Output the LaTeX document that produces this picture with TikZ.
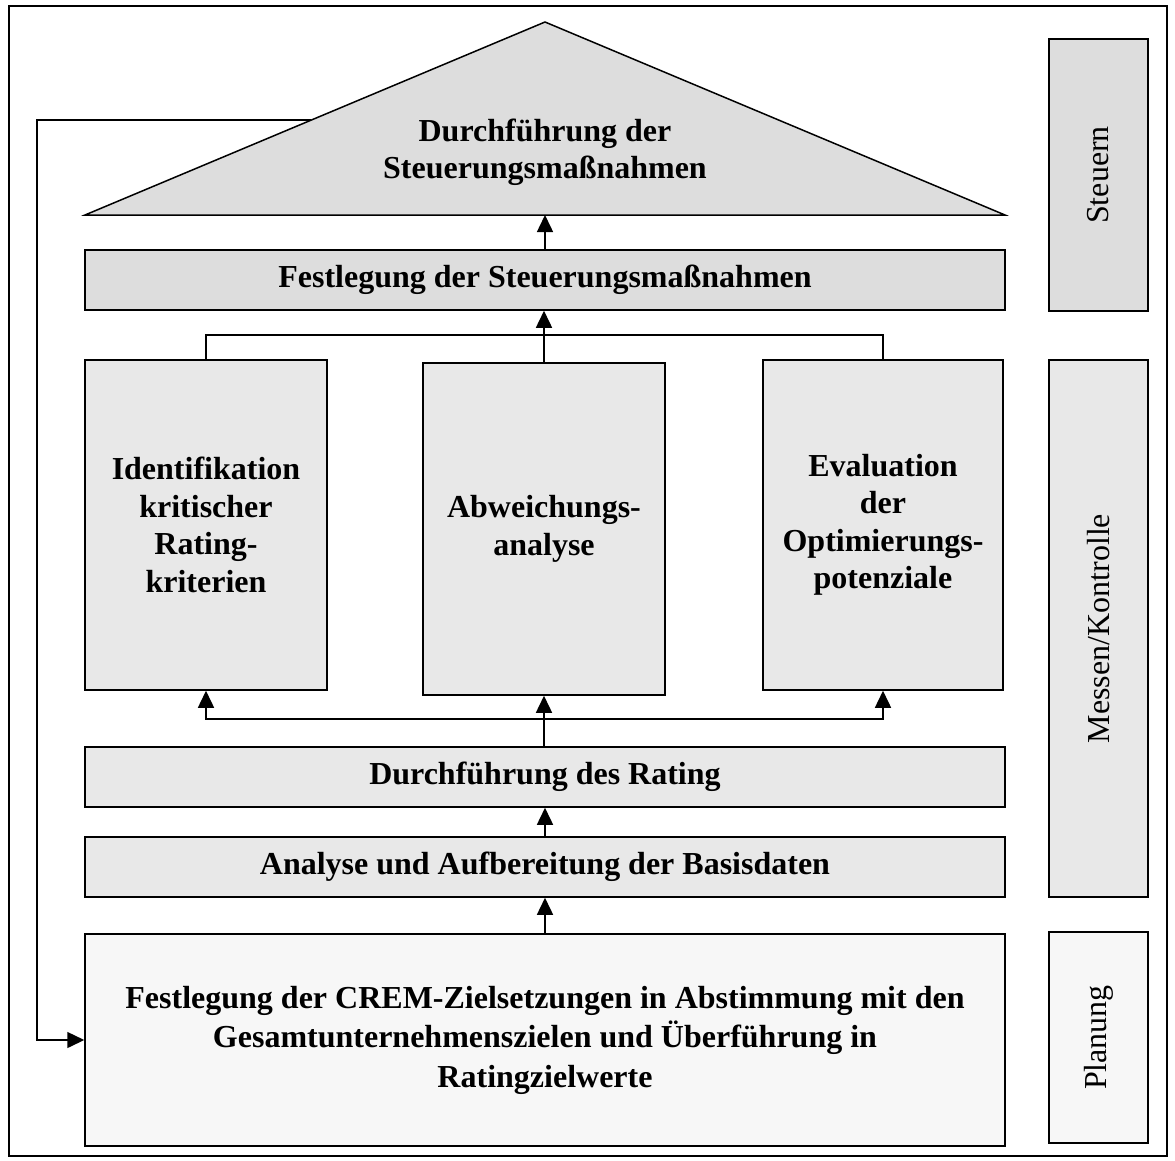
\documentclass[tikz,border=0pt]{standalone}
\usepackage{fontspec}
\setmainfont{Liberation Serif}
\usetikzlibrary{arrows.meta,calc}
\definecolor{greyA}{HTML}{DDDDDD}
\definecolor{greyB}{HTML}{E8E8E8}
\definecolor{greyC}{HTML}{F7F7F7}
\begin{document}
\begin{tikzpicture}[x=1pt,y=-1pt,
  line width=1.5pt,
  box/.style={draw, rectangle, align=center, inner sep=0pt,
    font=\fontsize{32}{37.5}\selectfont\bfseries},
  phase/.style={draw, rectangle, inner sep=0pt, minimum height=99pt,
    font=\fontsize{32}{37.5}\selectfont},
  link/.style={-{Triangle[length=17pt,width=16pt]}}]
\useasboundingbox (0,0) rectangle (1175,1160);
% outer frame
\draw (9,6) rectangle (1167,1156);

% roof of the house
\coordinate (tl) at (85,215);
\coordinate (tr) at (1005,215);
\coordinate (apex) at (545,22);
\coordinate (base) at (545,215);
\draw[fill=greyA] (tl) -- (apex) -- (tr) -- cycle;
\node[align=center, font=\fontsize{32}{37}\selectfont\bfseries] (roof) at (545,152)
  {Durchführung der\\Steuerungsmaßnahmen};

% main boxes
\node[box, fill=greyA, minimum width=920pt, minimum height=60pt] (fs) at (545,280)
  {Festlegung der Steuerungsmaßnahmen};
\node[box, fill=greyB, minimum width=242pt, minimum height=330pt] (id) at (206,525)
  {Identifikation\\kritischer\\Rating-\\kriterien};
\node[box, fill=greyB, minimum width=242pt, minimum height=332pt] (ab) at (544,529)
  {Abweichungs-\\analyse};
\node[box, fill=greyB, minimum width=240pt, minimum height=330pt] (ev) at (883,525)
  {Evaluation\\der\\Optimierungs-\\potenziale};
\node[box, fill=greyB, minimum width=920pt, minimum height=60pt] (dr) at (545,777)
  {Durchführung des Rating};
\node[box, fill=greyB, minimum width=920pt, minimum height=60pt] (an) at (545,867)
  {Analyse und Aufbereitung der Basisdaten};
\node[box, fill=greyC, minimum width=920pt, minimum height=212pt,
  font=\fontsize{32}{39.5}\selectfont\bfseries] (cr) at (545,1040)
  {Festlegung der CREM-Zielsetzungen in Abstimmung mit den\\Gesamtunternehmenszielen und Überführung in\\Ratingzielwerte};

% phase labels
\node[phase, fill=greyA, minimum width=272pt, rotate=90] (steuern) at (1098.5,175) {Steuern};
\node[phase, fill=greyB, minimum width=537pt, rotate=90] (messen) at (1098.5,628.5) {Messen/Kontrolle};
\node[phase, fill=greyC, minimum width=211pt, rotate=90] (planung) at (1098.5,1037.5) {Planung};

% connectors
\draw[link] (cr.north -| an.south) -- (an.south);
\draw[link] (an.north) -- (dr.south);
\coordinate (split) at (544,719);
\draw[link] (dr.north -| ab.south) -- (ab.south);
\draw[link] (split) -| (id.south);
\draw[link] (split) -| (ev.south);
\coordinate (merge) at (544,335);
\draw (id.north) |- (merge);
\draw (ev.north) |- (merge);
\draw[link] (ab.north) -- (fs.south -| ab.north);
\draw[link] (fs.north -| base) -- (base);

% feedback loop from the roof back to planning
\coordinate (roofleft) at ($(tl)!0.492!(apex)$);
\coordinate (loopx) at (37,0);
\draw[link] (roofleft) -- (roofleft -| loopx) |- (cr.west);
\end{tikzpicture}
\end{document}
